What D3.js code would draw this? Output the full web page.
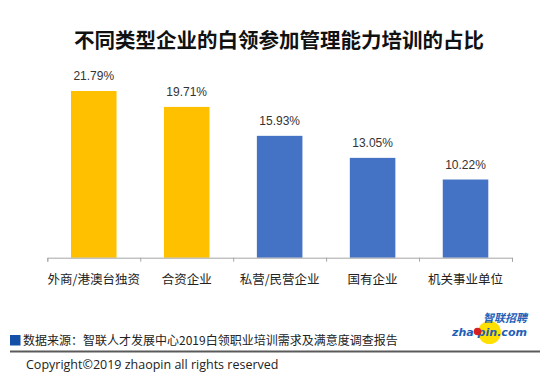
<!DOCTYPE html>
<html><head><meta charset="utf-8">
<script src="https://cdn.jsdelivr.net/npm/d3@7"></script>
<style>
html,body{margin:0;padding:0;background:#fff;}
svg{display:block;}
</style></head>
<body>
<svg id="chart" width="550" height="379"></svg>
<script>
const categories = ["外商/港澳台独资", "合资企业", "私营/民营企业", "国有企业", "机关事业单位"];
const values = [21.79, 19.71, 15.93, 13.05, 10.22];
const barGroups = ["yellow", "yellow", "blue", "blue", "blue"];
const valueLabels = ["21.79%", "19.71%", "15.93%", "13.05%", "10.22%"];

const colors = {yellow: "#FFC000", blue: "#4472C4"};
const cjk = "'Microsoft YaHei','Noto Sans CJK SC','Noto Sans',sans-serif";

const svg = d3.select("#chart");

const x = d3.scaleBand().domain(categories).range([47.3, 512]).paddingInner(0.51).paddingOuter(0.255);
const y = d3.scaleLinear().domain([0, 25]).range([257.7, 66.45]);

// title
svg.append("text").attr("x", 279).attr("y", 48)
  .attr("text-anchor", "middle").attr("font-family", cjk).attr("font-weight", "bold")
  .attr("font-size", 20.5).attr("fill", "#111").text("不同类型企业的白领参加管理能力培训的占比");

// bars
svg.selectAll("rect.bar").data(values).enter().append("rect")
  .attr("class", "bar")
  .attr("x", (d, i) => x(categories[i]))
  .attr("y", d => y(d))
  .attr("width", x.bandwidth())
  .attr("height", d => y(0) - y(d))
  .attr("fill", (d, i) => colors[barGroups[i]]);

// value labels
svg.selectAll("text.val").data(values).enter().append("text")
  .attr("class", "val")
  .attr("x", (d, i) => x(categories[i]) + x.bandwidth() / 2)
  .attr("y", d => y(d) - 11)
  .attr("text-anchor", "middle")
  .attr("font-family", "'Liberation Sans',Arial,sans-serif")
  .attr("font-size", 12).attr("fill", "#333")
  .text((d, i) => valueLabels[i]);

// axis
const x0 = x.range()[0], step = x.step();
const axisScale = d3.scaleLinear().domain([0, categories.length]).range([x0, x0 + categories.length * step]);
const axisG = svg.append("g").attr("transform", `translate(0,${y(0)})`)
  .call(d3.axisBottom(axisScale).tickValues(d3.range(categories.length + 1)).tickSize(4).tickFormat(""));
axisG.select(".domain").attr("stroke", "#a6a6a6");
axisG.selectAll(".tick line").attr("stroke", "#a6a6a6");

// category labels
svg.selectAll("text.cat").data(categories).enter().append("text")
  .attr("class", "cat")
  .attr("x", d => x(d) + x.bandwidth() / 2)
  .attr("y", 283.5)
  .attr("text-anchor", "middle")
  .attr("font-family", cjk).attr("font-size", 12.5).attr("fill", "#222")
  .text(d => d);

// source
svg.append("rect").attr("x", 10).attr("y", 335).attr("width", 10.5).attr("height", 10.5).attr("fill", "#1550a8");
svg.append("text").attr("x", 23).attr("y", 344.5)
  .attr("font-family", cjk).attr("font-size", 12).attr("fill", "#222")
  .text("数据来源：智联人才发展中心2019白领职业培训需求及满意度调查报告");

// separator
svg.append("line").attr("x1", 10).attr("x2", 540).attr("y1", 351.5).attr("y2", 351.5)
  .attr("stroke", "#5a5a5a").attr("stroke-width", 2);

// copyright
svg.append("text").attr("x", 26).attr("y", 368.5)
  .attr("font-family", "'Open Sans','Noto Sans',sans-serif").attr("font-size", 12.5).attr("fill", "#222")
  .text("Copyright©2019 zhaopin all rights reserved");

// logo
const logo = svg.append("g");
logo.append("circle").attr("cx", 489.5).attr("cy", 332.5).attr("r", 11.5).attr("fill", "#FFE000");
logo.append("text").attr("x", 483).attr("y", 321.5)
  .attr("font-family", cjk).attr("font-weight", "bold").attr("font-style", "italic")
  .attr("font-size", 11).attr("fill", "#1f5fb8")
  .text("智联招聘");
logo.append("text").attr("x", 452).attr("y", 336)
  .attr("font-family", "'DejaVu Sans',sans-serif").attr("font-weight", "bold").attr("font-style", "italic")
  .attr("font-size", 10).attr("fill", "#1f5fb8").attr("textLength", 75).attr("lengthAdjust", "spacingAndGlyphs")
  .text("zha pin.com");
logo.append("circle").attr("cx", 477.5).attr("cy", 331.5).attr("r", 3.8).attr("fill", "#d62020");
</script>
</body></html>
